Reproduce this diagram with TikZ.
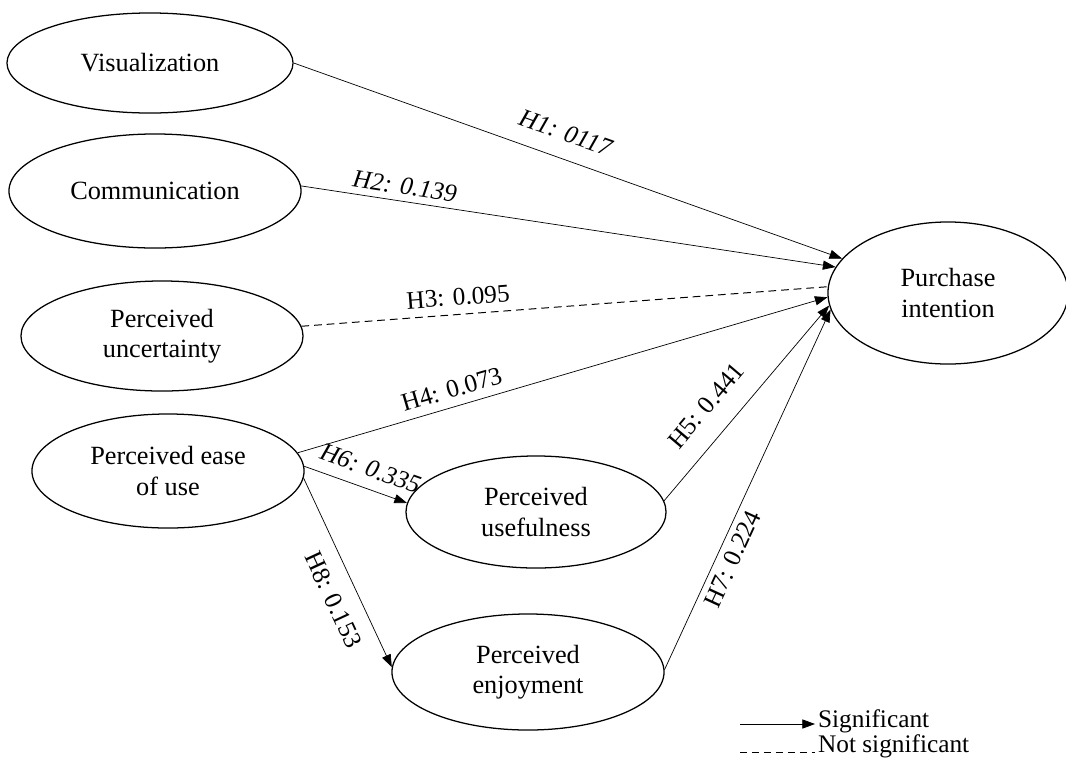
\documentclass[tikz,border=0pt]{standalone}
\usepackage{fontspec}
\setmainfont{Liberation Serif}
\usetikzlibrary{arrows.meta,shapes.geometric}

\tikzset{
  construct/.style={draw,ellipse,line width=0.9pt,inner sep=0pt,align=center,
                    font=\fontsize{18.7}{21.5}\selectfont},
  sig/.style={line width=0.5pt,-{Triangle[length=9pt,width=6.5pt]}},
  nsig/.style={line width=0.7pt,dash pattern=on 5.5pt off 3.5pt},
  hyp/.style={font=\fontsize{18}{21}\selectfont,sloped,inner sep=2pt},
  legtext/.style={anchor=west,inner sep=2pt,font=\fontsize{18}{21}\selectfont},
}

\begin{document}
\begin{tikzpicture}[x=0.025cm,y=-0.025cm]
  \useasboundingbox (0,0) rectangle (1066,758);
  % Constructs
  \node[construct,minimum width=7.15cm,minimum height=2.5cm] (vis) at (150,63) {Visualization};
  \node[construct,minimum width=7.3cm,minimum height=2.85cm] (comm) at (155,191) {Communication};
  \node[construct,minimum width=7.05cm,minimum height=2.75cm] (unc) at (162,336) {Perceived\\uncertainty};
  \node[construct,minimum width=6.8cm,minimum height=2.85cm] (ease) at (168,471) {Perceived ease\\of use};
  \node[construct,minimum width=6.5cm,minimum height=2.8cm] (use) at (536,512) {Perceived\\usefulness};
  \node[construct,minimum width=6.8cm,minimum height=2.9cm] (enj) at (528,672) {Perceived\\enjoyment};
  \node[construct,minimum width=6cm,minimum height=3.55cm] (pi) at (948,293) {Purchase\\intention};
  % Hypothesised paths
  \draw[sig] (vis.east) -- node[hyp,above=10pt,pos=0.48] {\itshape H1: 0117} (pi.162);
  \draw[sig] (comm.2) -- node[hyp,above=2.5pt,pos=0.19] {\itshape H2: 0.139} (pi.167);
  \draw[nsig] (unc.4) -- node[hyp,above=4pt,pos=0.3] {H3: 0.095} (pi.177);
  \draw[sig] (ease.8) -- node[hyp,above=4pt,pos=0.3] {H4: 0.073} (pi.182);
  \draw[sig] (use.5) -- node[hyp,above=12.5pt,pos=0.39] {H5: 0.441} (pi.186);
  \draw[sig] (ease.2) -- node[hyp,above=6pt,pos=0.58] {\itshape H6: 0.335} (use.176);
  \draw[sig] (enj.1) -- node[hyp,below=2.5pt,pos=0.325] {H7: 0.224} (pi.188);
  \draw[sig] (ease.-3) -- node[hyp,below=9pt,pos=0.59] {H8: 0.153} (enj.178);
  % Legend
  \node[legtext] (sigtxt) at (815,721) {Significant};
  \node[legtext] (nsigtxt) at (815,746) {Not significant};
  \coordinate (sigstart) at (740,724);
  \coordinate (nsigstart) at (740,752);
  \draw[sig] (sigstart) -- (sigstart -| sigtxt.west);
  \draw[nsig,dash pattern=on 5pt off 3.5pt] (nsigstart) -- (nsigstart -| nsigtxt.west);
\end{tikzpicture}
\end{document}
